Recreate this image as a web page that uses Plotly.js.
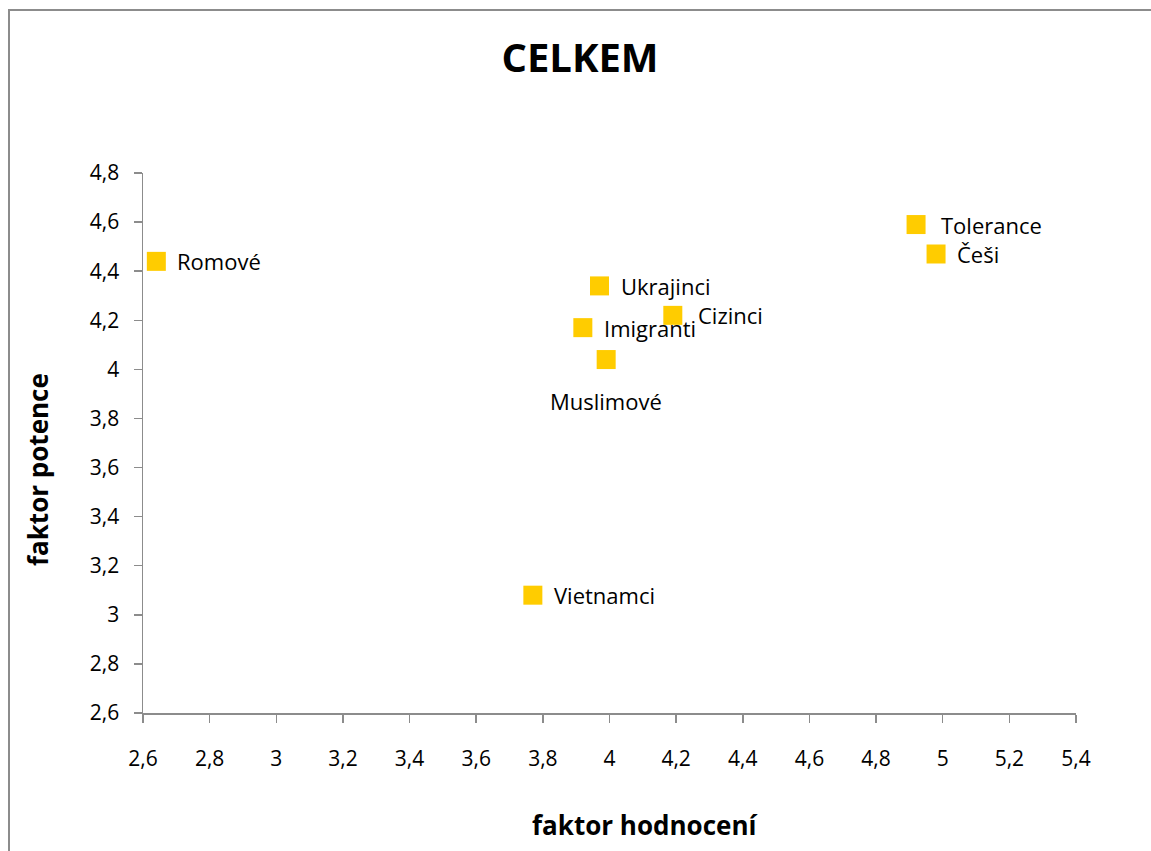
<!DOCTYPE html>
<html>
<head>
<meta charset="utf-8">
<script src="https://cdn.plot.ly/plotly-3.0.1.min.js"></script>
<style>
  html, body { margin: 0; padding: 0; background: #fff; }
  #wrap { position: relative; width: 1151px; height: 851px; overflow: hidden; }
  #chart { position: absolute; left: 0; top: 0; width: 1151px; height: 851px; }
  #frame { position: absolute; left: 8px; top: 9px; width: 1200px; height: 900px;
           border-left: 2px solid #8c8c8c; border-top: 2px solid #8c8c8c; pointer-events: none; }
</style>
</head>
<body>
<div id="wrap">
  <div id="chart"></div>
  <div id="frame"></div>
</div>
<script>
// Data
const groups = ["Romové", "Ukrajinci", "Cizinci", "Imigranti", "Muslimové", "Tolerance", "Češi", "Vietnamci"];
const hodnoceni = [2.64, 3.97, 4.19, 3.92, 3.99, 4.92, 4.98, 3.77];   // faktor hodnocení (x)
const potence   = [4.44, 4.34, 4.22, 4.17, 4.04, 4.59, 4.47, 3.08];   // faktor potence (y)

const xTicks = [2.6, 2.8, 3, 3.2, 3.4, 3.6, 3.8, 4, 4.2, 4.4, 4.6, 4.8, 5, 5.2, 5.4];
const yTicks = [2.6, 2.8, 3, 3.2, 3.4, 3.6, 3.8, 4, 4.2, 4.4, 4.6, 4.8];
const fmt = v => String(v).replace('.', ',');

const chartTitle = "CELKEM";
const xTitle = "faktor hodnocení";
const yTitle = "faktor potence";

// Label placement styles (per label name)
const labelStyle = {
  "Cizinci":   {xshift: 23, yshift: 0, xanchor: "left"},
  "Tolerance": {xshift: 23, yshift: 0, xanchor: "left"},
  "Muslimové": {xshift: 0, yshift: -41, xanchor: "center"}
};
const defStyle = {xshift: 19, yshift: 0, xanchor: "left"};

const FONT = "'Open Sans', Lato, sans-serif";

const trace = {
  type: "scatter",
  mode: "markers",
  x: hodnoceni,
  y: potence,
  marker: {symbol: "square", size: 19, color: "#FFCC00", line: {width: 0}},
  hoverinfo: "text",
  text: groups,
  showlegend: false
};

const annotations = groups.map((g, i) => {
  const s = labelStyle[g] || defStyle;
  return {
    x: hodnoceni[i], y: potence[i], xref: "x", yref: "y",
    text: g, showarrow: false,
    xanchor: s.xanchor, yanchor: "middle",
    xshift: s.xshift, yshift: s.yshift,
    font: {family: FONT, size: 22, color: "#000"}
  };
});

// Axis titles (placed as in the reference, off-centre)
annotations.push({
  xref: "paper", yref: "paper", x: 0.538, y: -0.207,
  xanchor: "center", yanchor: "middle", showarrow: false,
  text: "<b>" + xTitle + "</b>",
  font: {family: FONT, size: 26, color: "#000"}
});
annotations.push({
  xref: "paper", yref: "paper", x: -0.1125, y: 0.45,
  xanchor: "center", yanchor: "middle", showarrow: false, textangle: -90,
  text: "<b>" + yTitle + "</b>",
  font: {family: FONT, size: 26, color: "#000"}
});

const axisCommon = {
  showgrid: false, zeroline: false,
  showline: true, linecolor: "#8c8c8c", linewidth: 1.5,
  ticks: "outside", ticklen: 8, tickwidth: 1.5, tickcolor: "#8c8c8c",
  tickfont: {family: FONT, size: 21, color: "#000"},
  fixedrange: true
};

const layout = {
  width: 1151, height: 851,
  paper_bgcolor: "#fff", plot_bgcolor: "#fff",
  margin: {l: 143, r: 75, t: 173, b: 138, pad: 0},
  separators: ", ",
  title: {
    text: "<b>" + chartTitle + "</b>",
    font: {family: FONT, size: 40, color: "#000"},
    x: 580 / 1151, xanchor: "center",
    y: 1 - 58 / 851, yanchor: "middle"
  },
  xaxis: Object.assign({}, axisCommon, {
    range: [2.6, 5.4],
    tickvals: xTicks, ticktext: xTicks.map(fmt),
    ticklabelstandoff: 18
  }),
  yaxis: Object.assign({}, axisCommon, {
    range: [2.6, 4.8],
    tickvals: yTicks, ticktext: yTicks.map(fmt),
    ticklabelstandoff: 10
  }),
  annotations: annotations
};

Plotly.newPlot("chart", [trace], layout, {displayModeBar: false, staticPlot: true});
</script>
</body>
</html>
